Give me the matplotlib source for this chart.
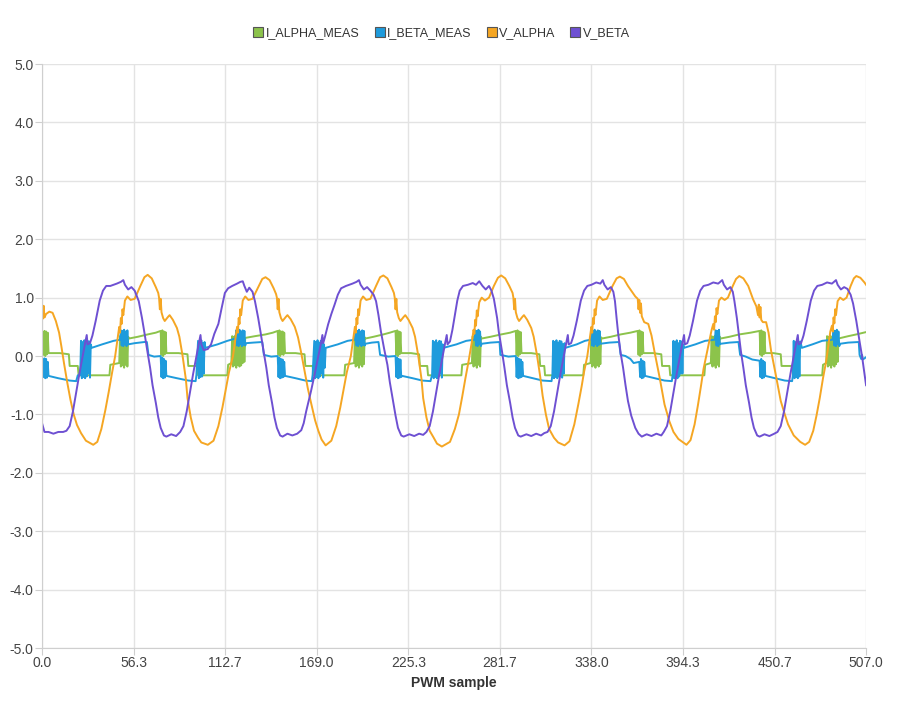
import matplotlib
matplotlib.use("Agg")
import matplotlib.pyplot as plt
from matplotlib.lines import Line2D
import numpy as np

# values, (PWM sample, value)
v_alpha_pts = [
    (0, 0.84), (0.5, 0.64), (1, 0.86), (1.5, 0.66), (2.5, 0.72), (4.5, 0.76), (6.5, 0.74), (8.5, 0.6),
    (10.5, 0.4), (12, 0.15), (13.5, -0.12), (15.5, -0.45), (17.5, -0.75), (19.5, -1.0), (21.5, -1.18),
    (24, -1.32), (27, -1.45),
    (31.5, -1.52), (34, -1.47), (36.5, -1.25), (39, -0.92), (41, -0.62), (43, -0.3), (45, 0.0), (46.5, 0.3),
    (47.5, 0.5), (48, 0.4), (48.5, 0.65), (49, 0.55), (49.5, 0.8), (50, 0.7), (51, 0.95), (52.5, 1.02),
    (54.5, 0.96), (57, 0.98), (60.5, 1.2), (63, 1.35), (65, 1.39),
    (67.5, 1.33), (70, 1.18), (71.5, 1.08), (72, 1.0), (72.5, 0.8), (73, 0.98), (73.5, 0.75), (74.5, 0.65),
    (75.5, 0.6), (77.5, 0.67), (78.5, 0.7), (80.5, 0.62), (83, 0.48), (84.5, 0.33), (86.5, 0.0), (88.5, -0.4),
    (89.5, -0.72), (91.5, -1.05), (93.5, -1.28), (96, -1.4), (98, -1.48),
    (102, -1.52), (105.5, -1.45), (108.5, -1.2), (111, -0.88), (113, -0.58), (115, -0.28), (117.5, 0.0),
    (119, 0.3), (120, 0.5), (120.5, 0.4), (121, 0.65), (121.5, 0.55), (122, 0.8), (122.5, 0.7), (123.5, 0.95),
    (125, 1.02), (127, 0.96), (129.5, 0.98), (133, 1.18), (135.5, 1.32), (137.5, 1.35),
    (140, 1.3), (142.5, 1.16), (144, 1.06), (144.5, 1.0), (145, 0.8), (145.5, 0.98), (146, 0.75), (147, 0.65),
    (148, 0.6), (150, 0.67), (151, 0.7), (153, 0.63), (155.5, 0.5), (157.5, 0.32), (159.5, 0.05),
    (161.5, -0.25), (163.5, -0.55), (165.5, -0.8), (168, -1.1), (170, -1.28), (172, -1.43),
    (174.5, -1.53), (178, -1.45), (181, -1.2), (183.5, -0.88), (185.5, -0.58), (187.5, -0.28), (190, 0.0),
    (191.5, 0.3), (192.5, 0.5), (193, 0.4), (193.5, 0.65), (194, 0.55), (194.5, 0.8), (195, 0.7), (196, 0.95),
    (197.5, 1.02), (199.5, 0.96), (202, 0.98), (205.5, 1.2), (208, 1.35), (210, 1.38),
    (212.5, 1.33), (215, 1.18), (216.5, 1.08), (217, 1.0), (217.5, 0.8), (218, 0.98), (218.5, 0.75),
    (219.5, 0.65), (220.5, 0.6), (222.5, 0.67), (223.5, 0.7), (225.5, 0.62), (228, 0.48), (229.5, 0.33),
    (231.5, 0.0), (233.5, -0.4), (234.5, -0.72), (236.5, -1.05), (238.5, -1.28), (241, -1.4), (243, -1.5),
    (246, -1.55), (251, -1.47), (254, -1.25), (256.5, -1.0), (258.5, -0.7), (260.5, -0.38), (262.5, -0.08),
    (264.5, 0.25), (265.5, 0.45), (266, 0.38), (266.5, 0.62), (267, 0.52), (267.5, 0.78), (268, 0.68),
    (269, 0.92), (270.5, 1.0), (272.5, 0.95), (275, 1.0), (278, 1.2), (280.5, 1.34), (282.5, 1.38),
    (285, 1.33), (287.5, 1.2), (289.5, 1.08), (290, 1.0), (290.5, 0.8), (291, 0.98), (291.5, 0.75),
    (292.5, 0.65), (293.5, 0.6), (295.5, 0.67), (296.5, 0.7), (298.5, 0.62), (301, 0.48), (302.5, 0.33),
    (304.5, 0.02), (306.5, -0.35), (308, -0.68), (310, -1.0), (312, -1.25), (315, -1.4), (317.5, -1.48),
    (321.5, -1.53), (324.5, -1.46), (327.5, -1.17), (330, -0.82), (332, -0.52), (333.5, -0.27), (335.5, 0.0),
    (337, 0.3), (338, 0.5), (338.5, 0.4), (339, 0.65), (339.5, 0.55), (340, 0.8), (340.5, 0.7), (341.5, 0.95),
    (343, 1.02), (345, 0.96), (347.5, 0.98), (351, 1.2), (353.5, 1.33), (355.5, 1.36),
    (358, 1.32), (360.5, 1.2), (363, 1.1), (365, 1.02), (366.5, 0.98), (367, 0.8), (367.5, 0.96), (368, 0.74),
    (368.5, 0.9), (369, 0.68), (370.5, 0.58), (373, 0.55), (375, 0.35), (377, 0.05), (380, -0.37),
    (383, -0.83), (386, -1.12), (388.5, -1.3), (391.5, -1.42),
    (396.5, -1.52), (399, -1.44), (401.5, -1.17), (403.5, -0.85), (405.5, -0.5), (407, -0.22), (409, 0.05),
    (410.5, 0.25), (412, 0.45), (413, 0.55), (413.5, 0.45), (414, 0.68), (414.5, 0.58), (415, 0.82),
    (415.5, 0.72), (416.5, 0.95), (418, 1.0), (420, 0.96), (422, 1.0), (425, 1.2), (427, 1.32), (429, 1.37),
    (431.5, 1.33), (434.5, 1.2), (437.5, 0.97), (439.5, 0.85), (440.5, 0.7), (441, 0.88), (441.5, 0.66),
    (442, 0.84), (442.5, 0.62), (443.5, 0.58), (445.5, 0.58), (447, 0.4), (448.5, 0.1), (451.5, -0.33),
    (454.5, -0.77), (457, -1.0), (459, -1.17), (462.5, -1.36), (466.5, -1.47),
    (469.5, -1.52), (472, -1.47), (474.5, -1.28), (476.5, -1.02), (478.5, -0.72), (480.5, -0.38),
    (482.5, -0.08), (484, 0.22), (485, 0.42), (486, 0.52), (486.5, 0.42), (487, 0.66), (487.5, 0.56),
    (488, 0.8), (488.5, 0.7), (489.5, 0.94), (491, 1.0), (493, 0.96), (495, 1.0), (497.5, 1.2), (499.5, 1.33),
    (501, 1.37), (503.5, 1.34), (506, 1.26), (507, 1.22),
]

v_beta_pts = [
    (0, -1.15), (1.5, -1.3), (4, -1.3), (7, -1.33), (10, -1.3), (13, -1.3),
    (15, -1.28), (17, -1.2), (19, -0.95), (21, -0.62), (23, -0.3), (25, 0.0), (26.5, 0.22), (27.5, 0.36),
    (28, 0.2), (29.5, 0.22), (31, 0.35), (33, 0.6), (35.5, 0.95), (37.5, 1.12), (39.5, 1.2),
    (42, 1.2), (46, 1.24), (48.5, 1.27), (50, 1.3), (51, 1.22), (53, 1.14), (55, 1.18), (57, 1.12),
    (59.5, 0.94), (61.5, 0.65), (63, 0.4), (65, 0.05), (66.5, -0.2), (68, -0.5), (70, -0.8), (71.5, -1.05),
    (73, -1.23), (75, -1.36), (76.5, -1.38), (79.5, -1.34), (82.5, -1.37), (85, -1.3),
    (87, -1.2), (89, -0.95), (91, -0.62), (93, -0.3), (95, 0.0), (96.5, 0.22), (97.5, 0.36), (98, 0.2),
    (99.5, 0.1), (102, 0.12), (104, 0.2), (106, 0.38), (108.5, 0.55), (110.5, 0.82), (112.5, 1.08),
    (114.5, 1.16), (117, 1.2), (120, 1.24), (122, 1.27), (123.5, 1.28), (124.5, 1.2), (126, 1.1),
    (127.5, 1.17), (129.5, 1.1),
    (131, 0.94), (133, 0.65), (134.5, 0.4), (136.5, 0.05), (138, -0.2), (139.5, -0.5), (141.5, -0.8),
    (143, -1.05), (144.5, -1.23), (146.5, -1.36), (148, -1.38), (151, -1.33), (154, -1.36), (157, -1.33),
    (159.5, -1.27),
    (161, -1.15), (162.5, -0.95), (165.5, -0.6), (168, -0.28), (170, 0.0), (171.5, 0.2), (172.5, 0.36),
    (173, 0.22), (174, 0.32), (176, 0.54), (178, 0.72), (180, 0.88), (182, 1.05), (184, 1.16),
    (187, 1.2), (191, 1.24), (193.5, 1.27), (195, 1.3), (196, 1.22), (198, 1.14), (200, 1.18), (202, 1.12),
    (204, 1.05), (205.5, 0.94), (207, 0.7), (208.5, 0.42), (210.5, 0.12), (212.5, -0.15), (214, -0.45),
    (216, -0.77), (217.5, -1.02), (219, -1.23), (221, -1.36), (222.5, -1.38),
    (226, -1.34), (229, -1.37), (232, -1.33), (234.5, -1.35),
    (236.5, -1.3), (238.5, -1.2), (240.5, -0.95), (242.5, -0.62), (244.5, -0.3), (246.5, 0.0), (248, 0.22),
    (249, 0.36), (249.5, 0.2), (251, 0.25), (252.5, 0.45), (254, 0.7), (255.5, 0.95), (257, 1.12),
    (259, 1.2), (262, 1.22), (265, 1.25), (267, 1.22), (269, 1.28), (271, 1.2), (273, 1.14), (275, 1.2),
    (276.5, 1.12),
    (278, 0.98), (280, 0.65), (281, 0.42), (283, 0.08), (284.5, -0.2), (286, -0.5), (288, -0.8),
    (289.5, -1.05), (291, -1.23), (293, -1.36), (294.5, -1.38),
    (298, -1.34), (301, -1.37), (304, -1.33), (307, -1.36), (309, -1.32),
    (311, -1.3), (313, -1.2), (315, -0.95), (317, -0.62), (319, -0.3), (321, 0.0), (322.5, 0.22),
    (323.5, 0.36), (324, 0.2), (325.5, 0.22), (327, 0.35), (329, 0.6), (331.5, 0.95), (333.5, 1.12),
    (335.5, 1.2), (338, 1.22), (341, 1.26), (343.5, 1.24), (345, 1.3), (346, 1.22), (348, 1.14),
    (350, 1.18), (351.5, 1.1),
    (352.5, 0.94), (353.5, 0.65), (354.5, 0.38), (356, 0.05), (357.5, -0.2), (359, -0.5), (360.5, -0.77),
    (362.5, -1.02), (365, -1.23), (367, -1.33), (369, -1.38),
    (372, -1.34), (375, -1.37), (378, -1.33), (381, -1.36),
    (382.5, -1.3), (384.5, -1.2), (386.5, -0.95), (388.5, -0.62), (390.5, -0.3), (392.5, 0.0), (394, 0.22),
    (395, 0.36), (395.5, 0.2), (397, 0.22), (398.5, 0.35), (400.5, 0.6), (403, 0.95), (405, 1.12),
    (407, 1.2), (410, 1.22), (413, 1.26), (416, 1.24), (418.5, 1.3), (419.5, 1.22), (421.5, 1.14),
    (423.5, 1.18), (425, 1.1),
    (426, 0.94), (427.5, 0.65), (428.5, 0.42), (430, 0.08), (431.5, -0.2), (433, -0.5), (435, -0.8),
    (436.5, -1.05), (438, -1.23), (440, -1.36), (441.5, -1.38),
    (444.5, -1.34), (447.5, -1.37), (450.5, -1.33),
    (452.5, -1.3), (454.5, -1.2), (456.5, -0.95), (458.5, -0.62), (460.5, -0.3), (462.5, 0.0), (464, 0.22),
    (465, 0.36), (465.5, 0.2), (467, 0.22), (468.5, 0.35), (470.5, 0.6), (473, 0.95), (475, 1.12),
    (477, 1.2), (480, 1.22), (483, 1.26), (486, 1.24), (488.5, 1.3), (489.5, 1.22), (491.5, 1.14),
    (493.5, 1.18), (495.5, 1.15), (497.5, 1.05),
    (499, 0.9), (501, 0.6), (503, 0.25), (504.5, 0.0), (506.5, -0.4), (507, -0.5),
]

i_alpha_pts = [
    (0, 0.42), (1, 0.02), (1.5, 0.43), (2, 0.0), (2.5, 0.42), (3, 0.03), (3.5, 0.4), (4, 0.05), (11, 0.05),
    (16.5, 0.03), (17, -0.17), (22, -0.17), (22.5, -0.33),
    (41.5, -0.33), (42, -0.15), (47.5, -0.12), (48, 0.34), (48.5, -0.18), (49, 0.33), (49.5, -0.16),
    (50, 0.35), (50.5, -0.2), (51, 0.32), (51.5, -0.15), (52, 0.34), (52.5, -0.18), (53, 0.33), (53.5, 0.3),
    (59, 0.33), (65, 0.37), (70, 0.4), (73, 0.43), (73.5, 0.02), (74, 0.44), (74.5, 0.0), (75, 0.42),
    (75.5, 0.03), (76, 0.41), (76.5, 0.05), (84, 0.05), (89.5, 0.03), (90, -0.17), (95.5, -0.17), (96, -0.33),
    (114, -0.33), (114.5, -0.15), (116.5, -0.12), (117, 0.34), (117.5, -0.18), (118, 0.33), (118.5, -0.16),
    (119, 0.35), (119.5, -0.2), (120, 0.32), (120.5, -0.15), (121, 0.34), (121.5, -0.18), (122, 0.33),
    (122.5, -0.16), (123, 0.35), (123.5, -0.12), (124, 0.33), (124.5, -0.1), (125, 0.31), (131, 0.34),
    (137.5, 0.37), (142, 0.4), (145, 0.43), (145.5, 0.02), (146, 0.44), (146.5, 0.0), (147, 0.42),
    (147.5, 0.03), (148, 0.42), (148.5, 0.02), (149, 0.4), (149.5, 0.05), (156, 0.05), (161.5, 0.03),
    (162, -0.17), (166.5, -0.17), (167, -0.33),
    (186, -0.33), (186.5, -0.15), (192, -0.12), (192.5, 0.34), (193, -0.18), (193.5, 0.33), (194, -0.16),
    (194.5, 0.35), (195, -0.2), (195.5, 0.32), (196, -0.15), (196.5, 0.34), (197, -0.18), (197.5, 0.33),
    (198, -0.14), (198.5, 0.32), (199, 0.3), (204, 0.33), (210, 0.37), (214, 0.4), (217.5, 0.43),
    (218, 0.02), (218.5, 0.44), (219, 0.0), (219.5, 0.42), (220, 0.03), (220.5, 0.41), (221, 0.05),
    (227, 0.05), (232, 0.03), (232.5, -0.17), (237, -0.17), (237.5, -0.33),
    (258, -0.33), (258.5, -0.15), (264.5, -0.12), (265, 0.34), (265.5, -0.18), (266, 0.33), (266.5, -0.16),
    (267, 0.35), (267.5, -0.2), (268, 0.32), (268.5, -0.15), (269, 0.34), (269.5, -0.18), (270, 0.33),
    (270.5, 0.3), (276, 0.33), (282.5, 0.37), (288, 0.4), (291.5, 0.43), (292, 0.02), (292.5, 0.44),
    (293, 0.0), (293.5, 0.42), (294, 0.03), (294.5, 0.41), (295, 0.05), (301, 0.05), (306, 0.03),
    (306.5, -0.17), (309, -0.17), (309.5, -0.33),
    (333, -0.33), (333.5, -0.15), (337.5, -0.12), (338, 0.34), (338.5, -0.18), (339, 0.33), (339.5, -0.16),
    (340, 0.35), (340.5, -0.2), (341, 0.32), (341.5, -0.15), (342, 0.34), (342.5, -0.18), (343, 0.33),
    (343.5, -0.14), (344, 0.32), (344.5, 0.3), (350, 0.33), (356, 0.37), (362, 0.4), (366.5, 0.43),
    (367, 0.02), (367.5, 0.44), (368, 0.0), (368.5, 0.42), (369, 0.03), (369.5, 0.41), (370, 0.05),
    (376, 0.05), (381, 0.03), (381.5, -0.17), (386, -0.17), (386.5, -0.33),
    (407.5, -0.33), (408, -0.15), (411.5, -0.12), (412, 0.34), (412.5, -0.18), (413, 0.33), (413.5, -0.16),
    (414, 0.35), (414.5, -0.2), (415, 0.32), (415.5, -0.15), (416, 0.34), (416.5, -0.18), (417, 0.33),
    (417.5, 0.3), (423, 0.33), (429, 0.37), (436, 0.4), (441.5, 0.43), (442, 0.02), (442.5, 0.44),
    (443, 0.0), (443.5, 0.42), (444, 0.03), (444.5, 0.41), (445, 0.05), (450, 0.05), (454.5, 0.03),
    (455, -0.17), (461.5, -0.17), (462, -0.33),
    (480, -0.33), (480.5, -0.15), (482.5, -0.12), (483, 0.34), (483.5, -0.18), (484, 0.33), (484.5, -0.16),
    (485, 0.35), (485.5, -0.2), (486, 0.32), (486.5, -0.15), (487, 0.34), (487.5, -0.18), (488, 0.33),
    (488.5, -0.14), (489, 0.32), (489.5, -0.1), (490, 0.3), (496, 0.34), (501, 0.37), (507, 0.41),
]

i_beta_pts = [
    (0, -0.02), (1, -0.36), (1.5, -0.04), (2, -0.38), (2.5, -0.05), (3, -0.37), (3.5, -0.1), (4, -0.34),
    (10, -0.38), (17, -0.42), (21, -0.43), (22, -0.33), (23.5, -0.33),
    (24, 0.26), (24.5, -0.38), (25, 0.24), (25.5, -0.36), (26, 0.27), (26.5, -0.38), (27, 0.22),
    (27.5, -0.35), (28, 0.26), (28.5, -0.3), (29, 0.25), (29.5, -0.37), (30, 0.2), (30.5, 0.14),
    (37, 0.2), (44, 0.26), (48, 0.28), (48.5, 0.44), (49, 0.18), (49.5, 0.43), (50, 0.17), (50.5, 0.45),
    (51, 0.2), (51.5, 0.42), (52, 0.17), (52.5, 0.44), (53, 0.2), (57, 0.22), (63, 0.24), (64.5, 0.24),
    (65.5, 0.02), (69, -0.01), (73, 0.0), (73.5, -0.36), (74, -0.03), (74.5, -0.38), (75, -0.05),
    (75.5, -0.37), (76, -0.08), (76.5, -0.34), (83, -0.38), (90, -0.42), (94.5, -0.43), (95, -0.32),
    (96, 0.26), (96.5, -0.38), (97, 0.24), (97.5, -0.36), (98, 0.27), (98.5, -0.35), (99, 0.22),
    (99.5, -0.3), (100, 0.24), (100.5, 0.14), (108, 0.2), (114, 0.26), (119, 0.3), (119.5, 0.44),
    (120, 0.18), (120.5, 0.43), (121, 0.17), (121.5, 0.45), (122, 0.2), (122.5, 0.42), (123, 0.17),
    (123.5, 0.44), (124, 0.19), (124.5, 0.43), (125, 0.18), (125.5, 0.22), (130, 0.23), (135.5, 0.24),
    (136.5, 0.02), (141, -0.01), (145, 0.0), (145.5, -0.36), (146, -0.03), (146.5, -0.38), (147, -0.05),
    (147.5, -0.37), (148, -0.06), (148.5, -0.36), (149, -0.1), (149.5, -0.34), (156, -0.38), (162, -0.42),
    (166, -0.43), (166.5, -0.32),
    (167.5, 0.26), (168, -0.38), (168.5, 0.24), (169, -0.36), (169.5, 0.27), (170, -0.38), (170.5, 0.22),
    (171, -0.35), (171.5, 0.26), (172, -0.3), (172.5, 0.25), (173, -0.37), (173.5, 0.2), (174, -0.2),
    (174.5, 0.14), (182, 0.2), (188, 0.26), (192.5, 0.28), (193, 0.44), (193.5, 0.18), (194, 0.43),
    (194.5, 0.17), (195, 0.45), (195.5, 0.2), (196, 0.42), (196.5, 0.17), (197, 0.44), (197.5, 0.19),
    (198, 0.43), (198.5, 0.18), (199, 0.21), (203, 0.23), (207, 0.24), (208, 0.02), (213, -0.01),
    (217.5, 0.0), (218, -0.36), (218.5, -0.03), (219, -0.38), (219.5, -0.05), (220, -0.37), (220.5, -0.06),
    (221, -0.36), (221.5, -0.34), (228, -0.38), (234, -0.42), (239, -0.43), (240, -0.32),
    (240.5, 0.26), (241, -0.38), (241.5, 0.24), (242, -0.36), (242.5, 0.27), (243, -0.38), (243.5, 0.22),
    (244, -0.35), (244.5, 0.26), (245, -0.3), (245.5, 0.25), (246, -0.37), (246.5, 0.2), (247, 0.14),
    (255, 0.2), (261, 0.26), (266, 0.28), (266.5, 0.44), (267, 0.18), (267.5, 0.43), (268, 0.17),
    (268.5, 0.45), (269, 0.2), (269.5, 0.42), (270, 0.17), (270.5, 0.21), (276, 0.23), (281.5, 0.24),
    (282, 0.02), (287, -0.01), (291.5, 0.0), (292, -0.36), (292.5, -0.03), (293, -0.38), (293.5, -0.05),
    (294, -0.37), (294.5, -0.06), (295, -0.36), (295.5, -0.1), (296, -0.34), (302, -0.38), (308, -0.42),
    (313.5, -0.43), (314, -0.32),
    (314.5, 0.26), (315, -0.38), (315.5, 0.24), (316, -0.36), (316.5, 0.27), (317, -0.38), (317.5, 0.22),
    (318, -0.35), (318.5, 0.26), (319, -0.3), (319.5, 0.25), (320, -0.37), (320.5, 0.2), (321, -0.3),
    (321.5, 0.22), (322, 0.14), (329, 0.2), (334, 0.26), (337.5, 0.28), (338, 0.44), (338.5, 0.18),
    (339, 0.43), (339.5, 0.17), (340, 0.45), (340.5, 0.2), (341, 0.42), (341.5, 0.17), (342, 0.44),
    (342.5, 0.19), (343, 0.43), (343.5, 0.21), (349, 0.23), (355, 0.24), (356, 0.02), (359, 0.0),
    (362, -0.05), (364, -0.12), (367.5, -0.1), (368, -0.36), (368.5, -0.05), (369, -0.38), (369.5, -0.08),
    (370, -0.37), (370.5, -0.1), (371, -0.34), (377, -0.38), (383, -0.42), (387.5, -0.43), (388, -0.32),
    (388.5, 0.26), (389, -0.38), (389.5, 0.24), (390, -0.36), (390.5, 0.27), (391, -0.38), (391.5, 0.22),
    (392, -0.35), (392.5, 0.26), (393, -0.3), (393.5, 0.25), (394, -0.3), (394.5, 0.2), (395, 0.14),
    (402, 0.2), (408, 0.26), (414, 0.28), (414.5, 0.44), (415, 0.18), (415.5, 0.43), (416, 0.17),
    (416.5, 0.45), (417, 0.2), (417.5, 0.21), (423, 0.23), (428.5, 0.24), (429.5, 0.02), (433, -0.01),
    (437, -0.06), (441.5, -0.08), (442, -0.36), (442.5, -0.05), (443, -0.38), (443.5, -0.08), (444, -0.37),
    (444.5, -0.1), (445, -0.34), (451, -0.38), (457, -0.42), (461.5, -0.43), (462, -0.32),
    (462.5, 0.26), (463, -0.38), (463.5, 0.24), (464, -0.36), (464.5, 0.27), (465, -0.38), (465.5, 0.22),
    (466, -0.35), (466.5, 0.25), (467, 0.2), (467.5, 0.14), (474, 0.2), (480, 0.26), (486.5, 0.28),
    (487, 0.44), (487.5, 0.18), (488, 0.43), (488.5, 0.17), (489, 0.45), (489.5, 0.2), (490, 0.42),
    (490.5, 0.17), (491, 0.21), (496, 0.23), (502.5, 0.24), (503, 0.02), (504, -0.05), (504.5, 0.02),
    (505, -0.06), (507, -0.02),
]

series_names = ["I_ALPHA_MEAS", "I_BETA_MEAS", "V_ALPHA", "V_BETA"]
series_colors = ["#8cc34b", "#1e9bdc", "#f5a623", "#6e50d2"]
x_ticks = [0.0, 56.3, 112.7, 169.0, 225.3, 281.7, 338.0, 394.3, 450.7, 507.0]
y_ticks = [-5.0, -4.0, -3.0, -2.0, -1.0, 0.0, 1.0, 2.0, 3.0, 4.0, 5.0]

plt.rcParams["font.family"] = ["Liberation Sans", "DejaVu Sans"]

fig = plt.figure(figsize=(9, 7.1), dpi=100)
ax = fig.add_axes([0.0467, 0.0873, 0.9156, 0.8225])

all_pts = [i_alpha_pts, i_beta_pts, v_alpha_pts, v_beta_pts]
for pts, name, color in zip(all_pts, series_names, series_colors):
    xy = np.array(pts)
    ax.plot(xy[:, 0], xy[:, 1], color=color, lw=1.4, label=name, solid_joinstyle="round")

ax.set_xlim(0, 507)
ax.set_ylim(-5, 5)
ax.set_xticks(np.linspace(0, 507, 10))
ax.set_xticklabels([f"{t:.1f}" for t in x_ticks])
ax.set_yticks(y_ticks)
ax.set_yticklabels([f"{t:.1f}" for t in y_ticks])

ax.grid(True, color="#e3e3e3", lw=1.0)
ax.set_axisbelow(True)
for side in ["top", "right"]:
    ax.spines[side].set_visible(False)
for side in ["left", "bottom"]:
    ax.spines[side].set_color("#cfcfcf")
ax.tick_params(axis="both", colors="#cfcfcf", labelcolor="#444444", labelsize=10, length=5, pad=1)

ax.set_xlabel("PWM sample", fontsize=10, fontweight="bold", color="#333333", labelpad=4)

handles = [
    Line2D([], [], marker="s", ls="none", markersize=6.5, markerfacecolor=c, markeredgecolor="#555555",
           markeredgewidth=0.8)
    for c in series_colors
]
fig.legend(handles, series_names, loc="center", bbox_to_anchor=(0.49, 0.9535), ncol=4, frameon=False,
           fontsize=9, handletextpad=0.1, columnspacing=1.1, labelcolor="#333333", handlelength=1.0)

fig.savefig("out.png", dpi=100)
